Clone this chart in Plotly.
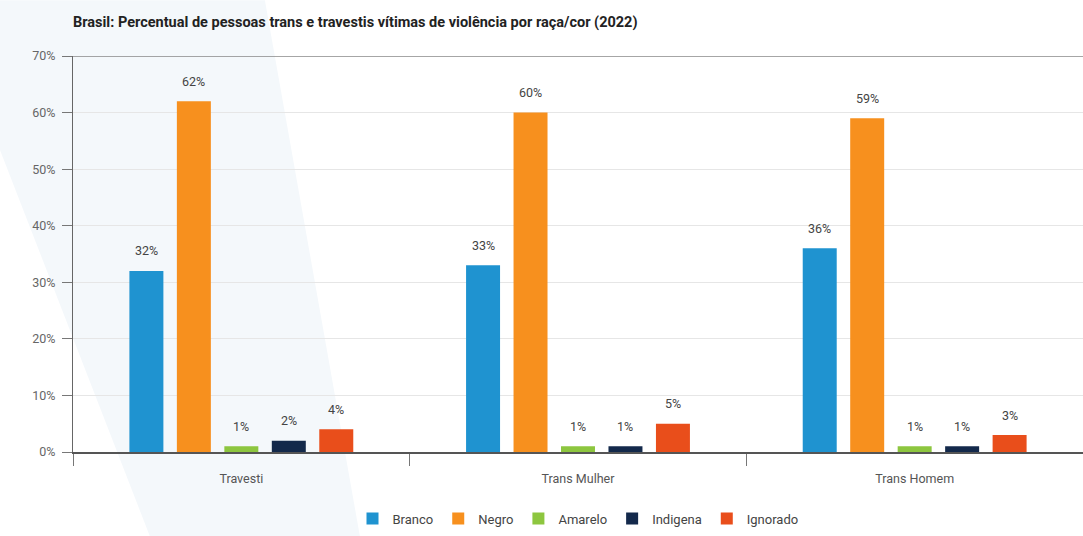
import plotly.graph_objects as go

categories = ["Travesti", "Trans Mulher", "Trans Homem"]
legend_labels = ["Branco", "Negro", "Amarelo", "Indigena", "Ignorado"]
branco = [32, 33, 36]
negro = [62, 60, 59]
amarelo = [1, 1, 1]
indigena = [2, 1, 1]
ignorado = [4, 5, 3]
values = [branco, negro, amarelo, indigena, ignorado]
colors = ["#1f93d0", "#f7901e", "#8dc63f", "#13294b", "#e94e1b"]
y_ticks = [0, 10, 20, 30, 40, 50, 60, 70]

FONT = "Roboto, sans-serif"
W, H = 1083, 536
ML, MR, MT, MB = 73, 0, 56, 84
BARGAP, BARGROUPGAP = 0.295, 0.284

fig = go.Figure()
for name, vals, col in zip(legend_labels, values, colors):
    fig.add_trace(go.Bar(
        x=categories, y=vals, name=name, marker_color=col,
        marker_line_width=0,
    ))

# value labels as annotations, placed by the category axis with a per-series offset
plot_w = W - ML - MR
slot = plot_w / len(categories) * (1 - BARGAP) / len(values)
annotations = []
for i, vals in enumerate(values):
    for cat, v in zip(categories, vals):
        annotations.append(dict(
            x=cat, y=v, xref="x", yref="y", text=f"{v}%", showarrow=False,
            xshift=(i - (len(values) - 1) / 2) * slot, yshift=20,
            font=dict(size=12.5, color="#444444", family=FONT),
        ))

fig.update_layout(
    width=W, height=H,
    margin=dict(l=ML, r=MR, t=MT, b=MB),
    paper_bgcolor="white", plot_bgcolor="rgba(0,0,0,0)",
    barmode="group", bargap=BARGAP, bargroupgap=BARGROUPGAP,
    title=dict(text="<b>Brasil: Percentual de pessoas trans e travestis vítimas de violência por raça/cor (2022)</b>",
               x=73/1083, xanchor="left", y=1-22/536, yanchor="middle",
               font=dict(family="Roboto, sans-serif", size=14.5, color="#222222")),
    legend=dict(orientation="h", x=0.5, xanchor="center", y=-0.13, yanchor="top",
                font=dict(family=FONT, size=13, color="#444444"),
                bgcolor="rgba(0,0,0,0)", traceorder="normal"),
    font=dict(family=FONT),
    annotations=annotations,
    shapes=[
        dict(type="path", xref="paper", yref="paper",
             path="M -0.0723 1.141 L 0.190 1.141 L 0.284 -0.212 L 0.076 -0.212 L -0.0723 0.763 Z",
             fillcolor="#f4f8fb", line=dict(width=0), layer="below"),
        dict(type="line", xref="paper", yref="y", x0=0, x1=1, y0=70, y1=70,
             line=dict(color="#888888", width=1.5), layer="above"),
    ],
)
fig.update_xaxes(
    showline=True, linecolor="#555555", linewidth=1.5,
    ticks="outside", tickson="boundaries", ticklen=12, tickcolor="#777777",
    ticklabelstandoff=14,
    tickfont=dict(family=FONT, size=12.5, color="#555555"),
    showgrid=False,
)
fig.update_yaxes(
    range=[0, 70], tickvals=y_ticks, ticktext=[f"{t}%" for t in y_ticks],
    showline=True, linecolor="#666666", linewidth=1,
    ticks="outside", ticklen=10, tickcolor="#777777",
    ticklabelstandoff=4,
    tickfont=dict(family=FONT, size=12.5, color="#666666"),
    showgrid=True, gridcolor="#e6e6e6", gridwidth=1, zeroline=False,
)
fig.write_html("out.html")
